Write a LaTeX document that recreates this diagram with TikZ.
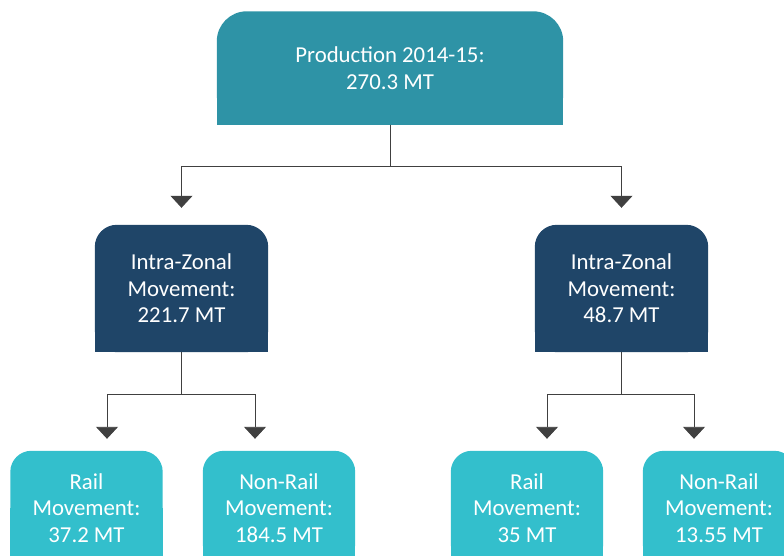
\documentclass[tikz,border=0pt]{standalone}
\usepackage{fontspec}
\setmainfont{Carlito}
\usetikzlibrary{arrows.meta,backgrounds}
\definecolor{topteal}{HTML}{2E93A6}
\definecolor{midnavy}{HTML}{1F4568}
\definecolor{lowcyan}{HTML}{33BFCC}
\definecolor{linegray}{HTML}{404040}
\tikzset{>={Triangle[width=22pt,length=12pt]}}
\tikzset{
	box/.style={text=white, align=center, font=\fontsize{22.8}{26.5}\selectfont, inner sep=0pt},
	link/.style={draw=linegray, line width=0.9pt},
}
% fill with rounded top corners only
\newcommand\topfill[3]{
	\fill[#1, rounded corners=#3] (#2.south west) rectangle (#2.north east);
	\fill[#1] (#2.west) rectangle (#2.south east);
}

\begin{document}
\begin{tikzpicture}[x=1pt,y=-1pt]

\useasboundingbox (0,0) rectangle (784,556);
\clip (0,0) rectangle (784,556);

\def\bw{152pt}
\def\bh{114pt}

\node[box, minimum width=346pt, minimum height=113pt] (prod) at (390,68){Production 2014-15:\\270.3 MT};

\node[box, minimum width=173pt, minimum height=127pt] (intra1) at (181.5,288.5){Intra-Zonal\\Movement:\\221.7 MT};
\node[box, minimum width=173pt, minimum height=127pt] (intra2) at (621.5,288.5){Intra-Zonal\\Movement:\\48.7 MT};

\node[box, minimum width=\bw, minimum height=\bh] (rail1) at (86.5,508){Rail\\Movement:\\37.2 MT};
\node[box, minimum width=\bw, minimum height=\bh] (road1) at (279,508){Non-Rail\\Movement:\\184.5 MT};
\node[box, minimum width=\bw, minimum height=\bh] (rail2) at (527,508){Rail\\Movement:\\35 MT};
\node[box, minimum width=\bw, minimum height=\bh] (road2) at (719,508){Non-Rail\\Movement:\\13.55 MT};

\begin{scope}[on background layer]
	\topfill{topteal}{prod}{30pt}
	\topfill{midnavy}{intra1}{22pt}
	\topfill{midnavy}{intra2}{22pt}
	\foreach \n in {rail1,road1,rail2,road2}{
		\topfill{lowcyan}{\n}{21pt}
	}
\end{scope}

% Production to zones
\draw[link,->,shorten >=17pt] (prod.south) -- ++(0,42) -| (intra1.north);
\draw[link,->,shorten >=17pt] (prod.south) -- ++(0,42) -| (intra2.north);

% Zones to rail / non-rail
\draw[link,->,shorten >=12pt] (intra1.south) -- ++(0,42) -| ([xshift=20.5pt]rail1.north);
\draw[link,->,shorten >=12pt] (intra1.south) -- ++(0,42) -| ([xshift=-24pt]road1.north);
\draw[link,->,shorten >=12pt] (intra2.south) -- ++(0,42) -| ([xshift=20pt]rail2.north);
\draw[link,->,shorten >=12pt] (intra2.south) -- ++(0,42) -| ([xshift=-25pt]road2.north);

\end{tikzpicture}
\end{document}
